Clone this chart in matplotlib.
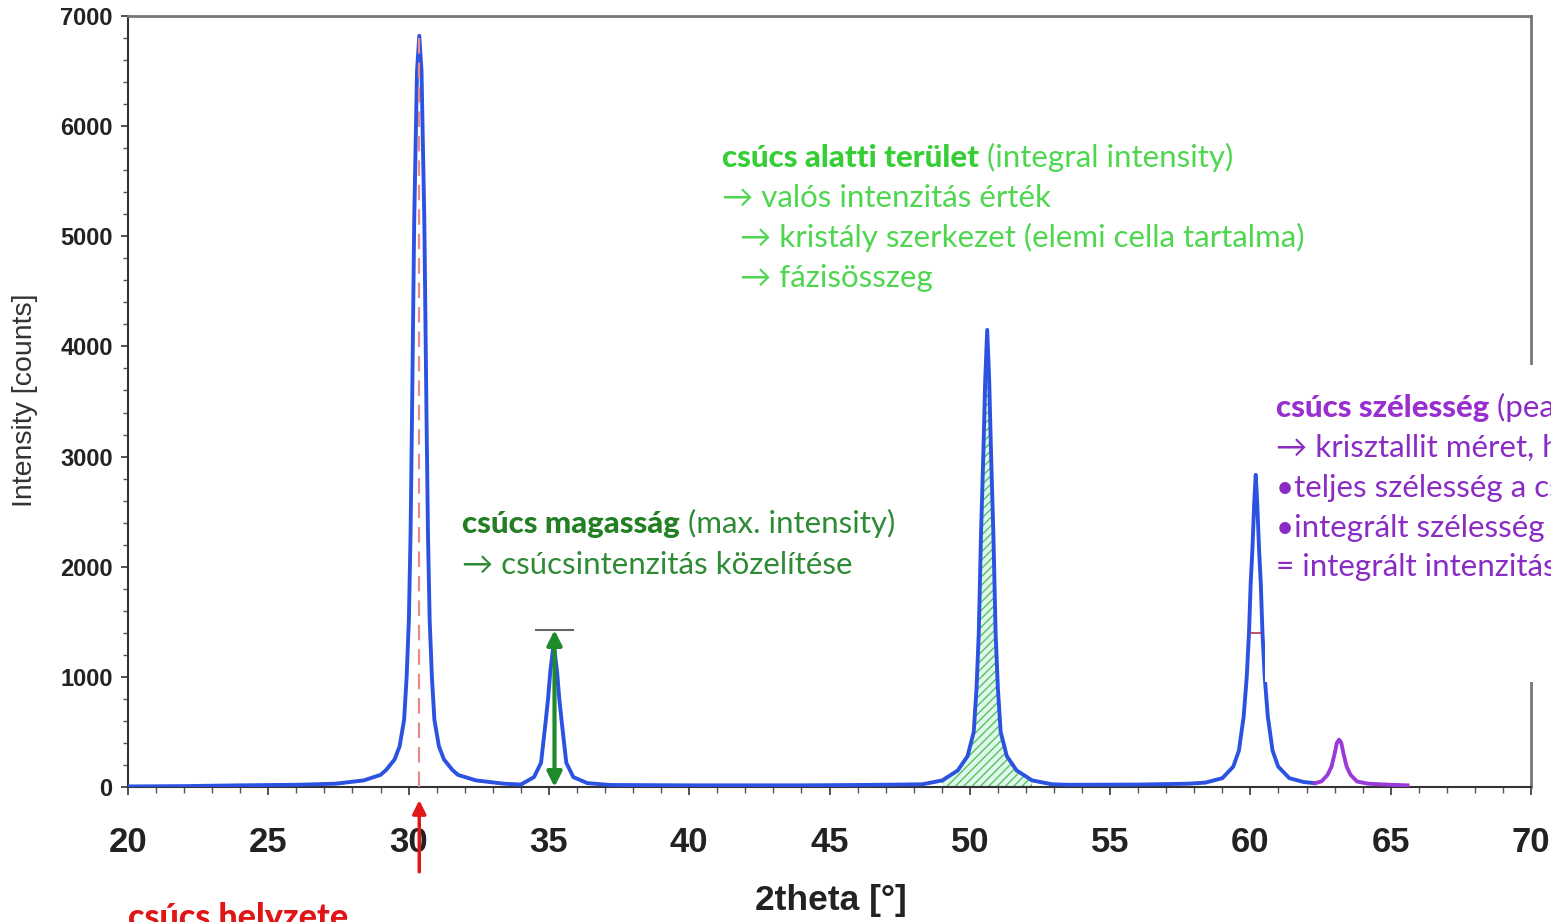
import matplotlib
matplotlib.use('Agg')
import numpy as np
import matplotlib.pyplot as plt
from matplotlib.patches import Rectangle
from matplotlib.ticker import MultipleLocator

# diffraktogram (2theta [fok], intenzitas [counts]) - leolvasott pontok
scan_2theta = [20.0, 22.0, 24.0, 26.0, 27.4, 28.4, 29.0, 29.2, 29.5, 29.68, 29.84, 29.93,
               30.01, 30.07, 30.12, 30.2, 30.3, 30.38, 30.46, 30.56, 30.64, 30.69, 30.75,
               30.83, 30.92, 31.08, 31.26, 31.56, 31.76, 32.4, 33.4, 34.0,
               34.47, 34.72, 34.87, 34.97, 35.05, 35.17, 35.29, 35.37, 35.47, 35.62,
               35.87, 36.37, 37.2, 40.0, 44.0, 46.0, 47.5,
               48.32, 49.02, 49.57, 49.92, 50.14, 50.24, 50.32, 50.4, 50.48, 50.55,
               50.62, 50.69, 50.76, 50.84, 50.92, 51.0, 51.1, 51.32, 51.67, 52.22,
               52.92, 53.5, 56.0, 57.8, 58.4, 59.0, 59.39, 59.59, 59.76, 59.87, 59.95,
               60.01, 60.07, 60.14, 60.19, 60.24, 60.31, 60.37, 60.43, 60.51, 60.62,
               60.79, 60.99, 61.39, 61.9, 62.3]
scan_counts = [5, 8, 15, 20, 30, 60, 110, 155, 250, 370, 610, 1000,
               1520, 2300, 3330, 5150, 6500, 6820, 6500, 5150, 3330, 2300, 1520,
               1000, 610, 370, 250, 155, 110, 60, 30, 22,
               90, 220, 560, 800, 1050, 1300, 1050, 800, 560, 220,
               90, 35, 18, 15, 15, 18, 22,
               25, 60, 150, 280, 500, 900, 1400, 2300, 3000, 3700,
               4150, 3700, 3000, 2300, 1400, 900, 500, 280, 150, 60,
               25, 20, 22, 30, 40, 80, 185, 330, 640, 1000, 1400,
               1850, 2150, 2600, 2834, 2600, 2150, 1850, 1400, 1000, 640,
               330, 185, 80, 45, 35]

# kis csucs (lila)
small_2theta = [62.3, 62.53, 62.75, 62.89, 63.0, 63.08, 63.16, 63.24, 63.32, 63.43,
                63.57, 63.8, 64.2, 65.0, 65.6]
small_counts = [35, 50, 110, 185, 300, 400, 430, 400, 300, 185, 110, 50, 30, 20, 15]

peak_position = 30.38          # csucs helyzete
height_peak = 35.2             # csucs magassag
height_value = 1425
area_range = [49.0, 52.3]      # csucs alatti terulet
fwhm_peak = [60.02, 60.36]
fwhm_level = 1400

x_ticks = [20, 25, 30, 35, 40, 45, 50, 55, 60, 65, 70]
y_ticks = [0, 1000, 2000, 3000, 4000, 5000, 6000, 7000]

W, H = 1551, 922
fig = plt.figure(figsize=(W / 100, H / 100), dpi=100)
ax = fig.add_axes([128 / W, 1 - 787 / H, (1531 - 128) / W, (787 - 16) / H])

FAM = ['Lato', 'DejaVu Sans']
AX_FAM = ['Liberation Sans Narrow', 'Liberation Sans', 'DejaVu Sans']

x = np.array(scan_2theta)
y = np.array(scan_counts)
m = (x >= area_range[0]) & (x <= area_range[1])
ax.fill_between(x[m], 0, y[m], facecolor='#dff7ee', edgecolor='#55c455',
                hatch='////', linewidth=0, zorder=1)
ax.plot(x, y, color='#2b52e0', lw=2.8, zorder=3)
ax.plot(small_2theta, small_counts, color='#9a3ad8', lw=2.8, zorder=3)

# csucs helyzete
ax.plot([peak_position, peak_position], [0, 6800], color='#ea8a8a', lw=1.6,
        dashes=(7, 4), zorder=4)
ax.annotate('', xy=(peak_position, -0.017), xycoords=('data', 'axes fraction'),
            xytext=(peak_position, -0.11), textcoords=('data', 'axes fraction'),
            arrowprops=dict(arrowstyle='-|>', color='#e01818', lw=2.5, mutation_scale=20,
                            shrinkA=0, shrinkB=0), annotation_clip=False, zorder=6)

# csucs magassag
ax.plot([34.55, 35.85], [height_value, height_value], color='#666666', lw=1.5, zorder=4)
ax.annotate('', xy=(height_peak, height_value), xytext=(height_peak, 0),
            arrowprops=dict(arrowstyle='<|-|>', color='#1e8a2c', lw=3, mutation_scale=22,
                            shrinkA=0, shrinkB=0), zorder=5)

# felertekszelesseg jelolo
ax.plot(fwhm_peak, [fwhm_level, fwhm_level], color='#b03060', lw=1.2, zorder=4)

ax.set_xlim(20, 70)
ax.set_ylim(0, 7000)
ax.set_xticks(x_ticks)
ax.set_yticks(y_ticks)
ax.xaxis.set_minor_locator(MultipleLocator(1))
ax.yaxis.set_minor_locator(MultipleLocator(200))
ax.tick_params(axis='x', which='major', direction='out', length=6, width=1.2,
               pad=22, labelsize=25, colors='#333333', labelcolor='#222222')
ax.tick_params(axis='x', which='minor', direction='out', length=4, width=1, colors='#555555')
ax.tick_params(axis='y', which='major', direction='out', length=5, width=1.2,
               pad=6, labelsize=17, colors='#333333', labelcolor='#222222')
ax.tick_params(axis='y', which='minor', direction='out', length=3.5, width=1, colors='#555555')
for lab in ax.get_xticklabels():
    lab.set_family(AX_FAM)
    lab.set_fontweight('bold')
for lab in ax.get_yticklabels():
    lab.set_family(['Liberation Sans', 'DejaVu Sans'])
    lab.set_fontweight('bold')
for s in ['left', 'bottom']:
    ax.spines[s].set_color('#333333')
    ax.spines[s].set_linewidth(1.5)
for s in ['right', 'top']:
    ax.spines[s].set_color('#777777')
    ax.spines[s].set_linewidth(2)

fig.text(831 / W, 1 - 900 / H, '2theta [°]', ha='center', va='center', fontsize=25.5,
         fontweight='bold', family=AX_FAM, color='#222222')
fig.text(25 / W, 1 - 400 / H, 'Intensity [counts]', ha='center', va='center', rotation=90,
         fontsize=20.5, family=AX_FAM, color='#333333')

# feher doboz a lila szoveg alatt
fig.patches.append(Rectangle((1265 / W, 1 - 682 / H), (W - 1265) / W, (682 - 365) / H,
                             transform=fig.transFigure, facecolor='white',
                             edgecolor='none', zorder=5))

FS = 22.5
renderer = fig.canvas.get_renderer()


def line(xp, yp, bold, rest, c1, c2):
    t = fig.text(xp / W, 1 - yp / H, bold, color=c1, fontsize=FS, fontweight='black',
                 family=FAM, va='baseline', ha='left', zorder=10)
    if rest:
        bb = t.get_window_extent(renderer)
        fig.text(bb.x1 / W, 1 - yp / H, rest, color=c2, fontsize=FS, family=FAM,
                 va='baseline', ha='left', zorder=10)


def plain(xp, yp, s, c):
    fig.text(xp / W, 1 - yp / H, s, color=c, fontsize=FS, family=FAM,
             va='baseline', ha='left', zorder=10)


# csucs alatti terulet
g1, g2 = '#35cf35', '#4fd64f'
line(722, 167, 'csúcs alatti terület', ' (integral intensity)', g1, g2)
plain(722, 207, '→ valós intenzitás érték', g2)
plain(740, 247, '→ kristály szerkezet (elemi cella tartalma)', g2)
plain(740, 287, '→ fázisösszeg', g2)

# csucs magassag
d1, d2 = '#237f23', '#2f8a35'
line(462, 533, 'csúcs magasság', ' (max. intensity)', d1, d2)
plain(462, 574, '→ csúcsintenzitás közelítése', d2)

# csucs szelesseg
p1, p2 = '#9a2fd0', '#8a2cc4'
line(1276, 417, 'csúcs szélesség', ' (peak width)', p1, p2)
plain(1276, 457, '→ krisztallit méret, hibák', p2)
plain(1276, 497, '•teljes szélesség a csúcs félmagasságánál', p2)
plain(1276, 537, '•integrált szélesség', p2)
plain(1276, 576, '= integrált intenzitás / csúcsmagasság', p2)

# csucs helyzete
fig.text(128 / W, 1 - 928 / H, 'csúcs helyzete', color='#e01515', fontsize=24.5,
         fontweight='black', family=FAM, va='baseline', ha='left')

fig.savefig('out.png', dpi=100)
